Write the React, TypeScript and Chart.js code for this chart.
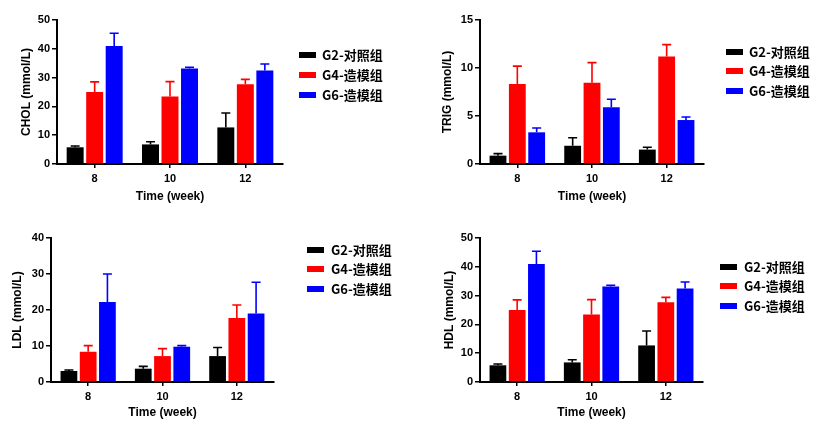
import React, { useEffect, useRef } from 'react';
import { Chart, registerables } from 'chart.js';

Chart.register(...registerables);

// ---------- data ----------
const weeks = ['8', '10', '12'];
const groups = ['G2-对照组', 'G4-造模组', 'G6-造模组'];
const groupColors = ['#000000', '#ff0000', '#0000ff'];

const cholG2 = [5.8, 6.8, 12.7];
const cholG4 = [25.0, 23.4, 27.7];
const cholG6 = [41.0, 33.2, 32.5];
const cholG2Sd = [0.45, 0.95, 5.0];
const cholG4Sd = [3.5, 5.2, 1.7];
const cholG6Sd = [4.4, 0.4, 2.2];

const trigG2 = [0.87, 1.9, 1.5];
const trigG4 = [8.33, 8.47, 11.2];
const trigG6 = [3.3, 5.9, 4.58];
const trigG2Sd = [0.21, 0.84, 0.24];
const trigG4Sd = [1.87, 2.09, 1.23];
const trigG6Sd = [0.45, 0.84, 0.32];

const ldlG2 = [3.05, 3.7, 7.2];
const ldlG4 = [8.4, 7.2, 17.8];
const ldlG6 = [22.2, 9.8, 19.0];
const ldlG2Sd = [0.28, 0.65, 2.4];
const ldlG4Sd = [1.7, 2.06, 3.6];
const ldlG6Sd = [7.8, 0.3, 8.7];

const hdlG2 = [5.8, 6.8, 12.7];
const hdlG4 = [25.0, 23.4, 27.7];
const hdlG6 = [41.0, 33.2, 32.5];
const hdlG2Sd = [0.45, 0.95, 5.0];
const hdlG4Sd = [3.5, 5.2, 1.7];
const hdlG6Sd = [4.4, 0.4, 2.2];

const xTitle = 'Time (week)';

// ---------- layout of the four panels ----------
type Panel = {
  yTitle: string;
  max: number;
  step: number;
  means: number[][];
  sds: number[][];
  left: number;
  top: number;
  width: number;
  height: number;
  area: { left: number; top: number; right: number; bottom: number };
  yTitleX: number;
  legend: { boxX: number; textX: number; rows: number[] };
};

const panels: Panel[] = [
  {
    yTitle: 'CHOL (mmol/L)', max: 50, step: 10,
    means: [cholG2, cholG4, cholG6], sds: [cholG2Sd, cholG4Sd, cholG6Sd],
    left: 0, top: 0, width: 410, height: 216,
    area: { left: 57, top: 20, right: 283, bottom: 164 },
    yTitleX: 27,
    legend: { boxX: 299, textX: 322, rows: [55, 75, 95] },
  },
  {
    yTitle: 'TRIG (mmol/L)', max: 15, step: 5,
    means: [trigG2, trigG4, trigG6], sds: [trigG2Sd, trigG4Sd, trigG6Sd],
    left: 410, top: 0, width: 411, height: 216,
    area: { left: 70, top: 20, right: 294, bottom: 164 },
    yTitleX: 38,
    legend: { boxX: 316, textX: 339, rows: [52, 71, 91] },
  },
  {
    yTitle: 'LDL (mmol/L)', max: 40, step: 10,
    means: [ldlG2, ldlG4, ldlG6], sds: [ldlG2Sd, ldlG4Sd, ldlG6Sd],
    left: 0, top: 216, width: 410, height: 216,
    area: { left: 51, top: 22, right: 274, bottom: 166 },
    yTitleX: 18,
    legend: { boxX: 307, textX: 331, rows: [34, 53, 73] },
  },
  {
    yTitle: 'HDL (mmol/L)', max: 50, step: 10,
    means: [hdlG2, hdlG4, hdlG6], sds: [hdlG2Sd, hdlG4Sd, hdlG6Sd],
    left: 410, top: 216, width: 411, height: 216,
    area: { left: 70, top: 22, right: 293, bottom: 166 },
    yTitleX: 40,
    legend: { boxX: 310, textX: 334, rows: [51, 70, 90] },
  },
];

const latin = "'Liberation Sans', Arial, sans-serif";
const cjk = "'Noto Sans CJK SC', 'Liberation Sans', sans-serif";

function makeErrorBarPlugin() {
  return {
    id: 'errorBars',
    afterDatasetsDraw(chart: any) {
      const ctx = chart.ctx;
      const yScale = chart.scales.y;
      ctx.save();
      chart.data.datasets.forEach((ds: any, di: number) => {
        const meta = chart.getDatasetMeta(di);
        meta.data.forEach((el: any, i: number) => {
          const v = ds.data[i];
          const e = ds.errors[i];
          const yTop = yScale.getPixelForValue(v + e);
          ctx.strokeStyle = ds.backgroundColor;
          ctx.lineWidth = 1.6;
          ctx.beginPath();
          ctx.moveTo(el.x, el.y);
          ctx.lineTo(el.x, yTop);
          ctx.moveTo(el.x - 4.5, yTop);
          ctx.lineTo(el.x + 4.5, yTop);
          ctx.stroke();
        });
      });
      ctx.restore();
    },
  };
}

function makeLegendPlugin(p: Panel) {
  return {
    id: 'sideLegend',
    afterDraw(chart: any) {
      const ctx = chart.ctx;
      ctx.save();
      chart.data.datasets.forEach((ds: any, i: number) => {
        const y = p.legend.rows[i];
        ctx.fillStyle = ds.backgroundColor;
        ctx.fillRect(p.legend.boxX, y - 3, 17, 6);
        ctx.fillStyle = '#000000';
        ctx.font = `bold 13px ${cjk}`;
        ctx.textBaseline = 'middle';
        ctx.textAlign = 'left';
        ctx.fillText(ds.label, p.legend.textX, y);
      });
      ctx.restore();
    },
  };
}

function PanelChart({ p }: { p: Panel }) {
  const ref = useRef<HTMLCanvasElement>(null);
  useEffect(() => {
    if (!ref.current) return;
    const chart = new Chart(ref.current, {
      type: 'bar',
      data: {
        labels: weeks,
        datasets: groups.map((g, i) => ({
          label: g,
          data: p.means[i],
          errors: p.sds[i],
          backgroundColor: groupColors[i],
          borderWidth: 0,
          categoryPercentage: 0.777,
          barPercentage: 0.87,
        })) as any,
      },
      options: {
        responsive: false,
        animation: false,
        devicePixelRatio: 1,
        layout: {
          padding: {
            left: 0,
            top: p.area.top,
            right: p.width - p.area.right,
            bottom: 0,
          },
        },
        plugins: {
          legend: { display: false },
          tooltip: { enabled: false },
        },
        scales: {
          x: {
            offset: true,
            grid: {
              offset: false,
              drawOnChartArea: false,
              drawTicks: true,
              tickLength: 4,
              color: '#000000',
              lineWidth: 1.5,
            },
            border: { color: '#000000', width: 2 },
            ticks: {
              color: '#000000',
              padding: 4,
              font: { family: latin, size: 11, weight: 'bold' },
            },
            title: {
              display: true,
              text: xTitle,
              color: '#000000',
              padding: { top: 0, bottom: 12 },
              font: { family: latin, size: 12, weight: 'bold' },
            },
            afterFit: (s: any) => {
              s.height = p.height - p.area.bottom;
            },
          },
          y: {
            min: 0,
            max: p.max,
            ticks: {
              stepSize: p.step,
              color: '#000000',
              padding: 2,
              font: { family: latin, size: 11, weight: 'bold' },
            },
            grid: {
              drawOnChartArea: false,
              drawTicks: true,
              tickLength: 5,
              color: '#000000',
              lineWidth: 1.5,
            },
            border: { color: '#000000', width: 2 },
            title: {
              display: true,
              text: p.yTitle,
              color: '#000000',
              padding: { top: p.yTitleX - 7.2, bottom: 0 },
              font: { family: latin, size: 12, weight: 'bold' },
            },
            afterFit: (s: any) => {
              s.width = p.area.left;
            },
          },
        },
      } as any,
      plugins: [makeErrorBarPlugin(), makeLegendPlugin(p)],
    });
    return () => chart.destroy();
  }, [p]);
  return (
    <canvas
      ref={ref}
      width={p.width}
      height={p.height}
      style={{ position: 'absolute', left: p.left, top: p.top, width: p.width, height: p.height }}
    />
  );
}

export default function App() {
  return (
    <div style={{ position: 'fixed', left: 0, top: 0, width: 821, height: 432, background: '#ffffff', overflow: 'hidden' }}>
      {panels.map((p, i) => (
        <PanelChart key={i} p={p} />
      ))}
    </div>
  );
}
